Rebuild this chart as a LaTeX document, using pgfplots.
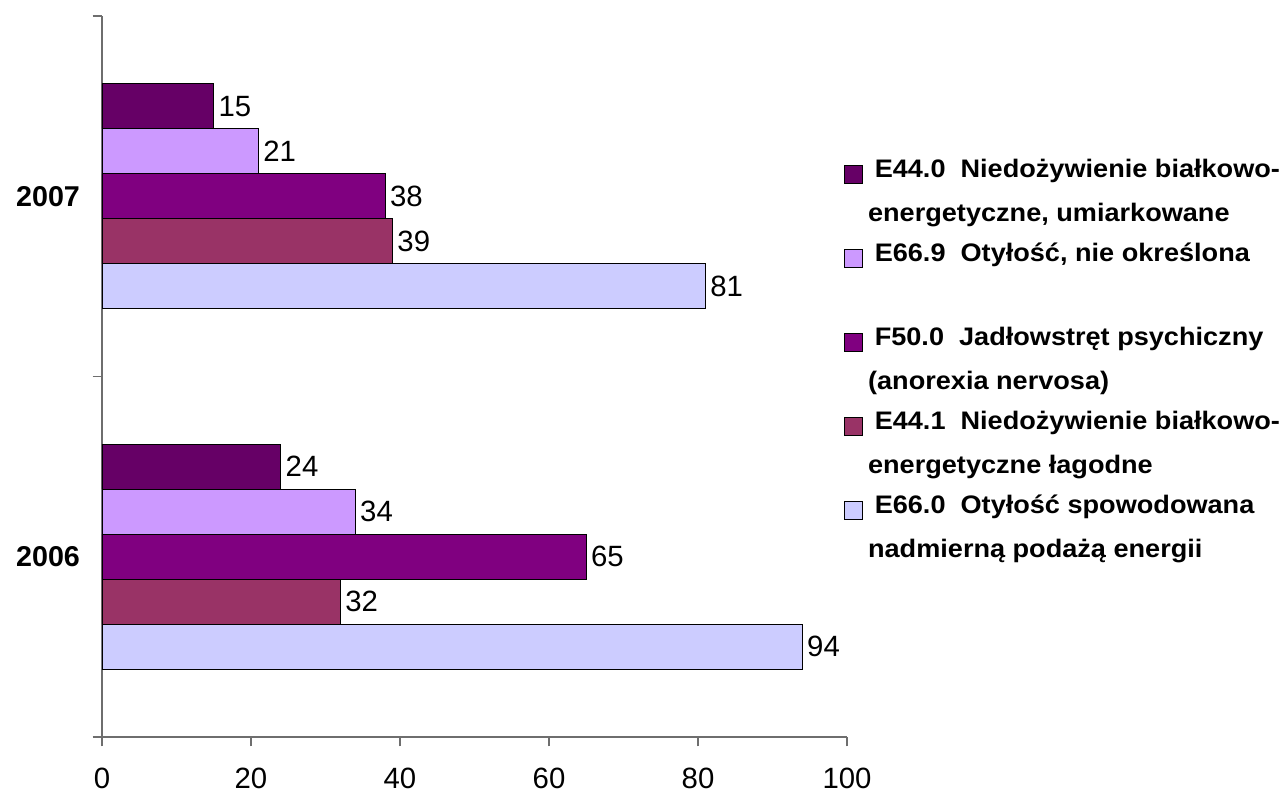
\documentclass[border=0pt]{standalone}
\usepackage{pgfplots}
\pgfplotsset{compat=1.18}
\usepackage{fontspec}
\setmainfont{Liberation Sans}
\newfontfamily\legfont[FakeStretch=1.07]{Liberation Sans}
\definecolor{cA}{HTML}{660066}
\definecolor{cB}{HTML}{CC99FF}
\definecolor{cC}{HTML}{800080}
\definecolor{cD}{HTML}{993366}
\definecolor{cE}{HTML}{CCCCFF}
\definecolor{axgray}{HTML}{6E6E6E}
\newcommand\ls{\rule[-5pt]{0pt}{20pt}}
\begin{document}
\begin{tikzpicture}
\begin{axis}[
 xbar, scale only axis, width=558.75pt, height=540.75pt,
 xmin=0, xmax=100, ymin=-0.5, ymax=1.5,
 axis lines*=left, axis line style={axgray, line width=0.9pt},
 xtick={0,20,...,100}, tick align=outside, major tick length=7pt,
 tick style={axgray, line width=0.9pt},
 ytick={-0.5,0.5,1.5}, yticklabels={},
 extra y ticks={0,1}, extra y tick labels={2006,2007},
 extra y tick style={major tick length=0pt, yticklabel style={font=\fontsize{21.5}{24}\selectfont\bfseries, xshift=-13pt}},
 xticklabel style={font=\fontsize{22}{26}\selectfont, yshift=-13pt},
 /pgf/number format/assume math mode=true,
 bar width=0.1247,
 every axis plot/.append style={draw=black, line width=0.7pt},
 nodes near coords, nodes near coords style={font=\fontsize{22}{26}\selectfont, anchor=west, black},
 legend style={at={(rel axis cs:0.99,0.812)}, anchor=north west, draw=none, fill=none, font=\legfont\fontsize{19}{31}\selectfont\bfseries, cells={align=left}, row sep=9pt},
 legend cell align=left,
 legend image code/.code={\draw[#1] (0pt,5.5pt) rectangle (13.5pt,19pt);},
]
\addplot[fill=cA, bar shift=0.25] coordinates {(15,1) (24,0)};
\addplot[fill=cB, bar shift=0.125] coordinates {(21,1) (34,0)};
\addplot[fill=cC, bar shift=0] coordinates {(38,1) (65,0)};
\addplot[fill=cD, bar shift=-0.125] coordinates {(39,1) (32,0)};
\addplot[fill=cE, bar shift=-0.25] coordinates {(81,1) (94,0)};
\legend{{\ls\hspace*{7pt}E44.0\ \ Niedożywienie białkowo-\\[2.5pt]\rule[-9.5pt]{0pt}{20pt}\hspace*{2pt}energetyczne, umiarkowane},
{\ls\hspace*{7pt}E66.9\ \ Otyłość, nie określona\\[2.5pt]\ls},
{\ls\hspace*{7pt}F50.0\ \ Jadłowstręt psychiczny\\[2.5pt]\ls\hspace*{2pt}(anorexia nervosa)},
{\ls\hspace*{7pt}E44.1\ \ Niedożywienie białkowo-\\[2.5pt]\ls\hspace*{2pt}energetyczne łagodne},
{\ls\hspace*{7pt}E66.0\ \ Otyłość spowodowana\\[2.5pt]\ls\hspace*{2pt}nadmierną podażą energii}}
\end{axis}
\pgfresetboundingbox
\path[use as bounding box] ([xshift=-76.5pt,yshift=-42.75pt]current axis.south west) rectangle ([xshift=327.75pt,yshift=12pt]current axis.north east);
\end{tikzpicture}
\end{document}
